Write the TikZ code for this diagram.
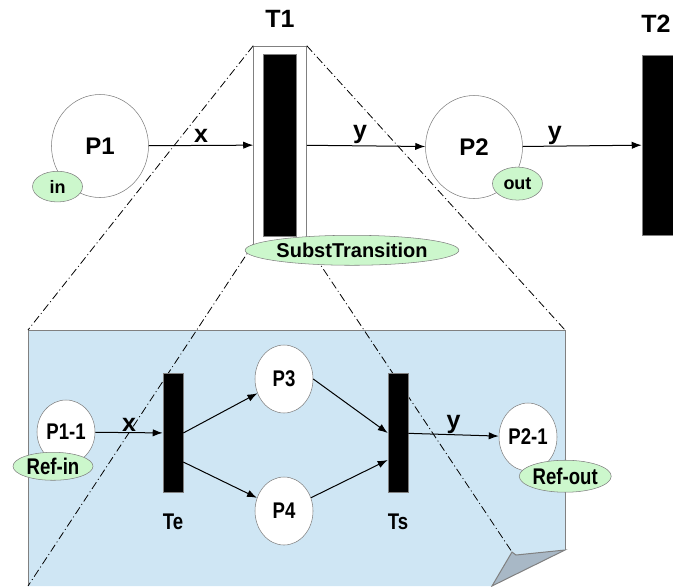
\documentclass[tikz,border=0pt]{standalone}
\usepackage{fontspec}
\setmainfont{Liberation Sans}
\newfontfamily\narrowfont{Liberation Sans}[FakeStretch=0.82]
\usetikzlibrary{shapes.geometric,arrows.meta,positioning,calc}
\definecolor{pagecol}{RGB}{207,230,244}
\definecolor{flapcol}{RGB}{168,184,198}
\definecolor{portcol}{RGB}{204,247,204}
\definecolor{rim}{RGB}{128,128,128}
\tikzstyle{place} = [ellipse, draw = rim, fill = white, inner sep = 0pt, minimum width = 72.75pt, minimum height = 77.25pt, font = \fontsize{18}{20}\selectfont\bfseries]
\tikzstyle{subplace} = [place, minimum width = 43.5pt, minimum height = 51pt, font = \narrowfont\fontsize{17}{19}\selectfont\bfseries]
\tikzstyle{port} = [ellipse, draw = rim, fill = portcol, inner sep = 0pt, minimum width = 37.5pt, minimum height = 23pt, font = \fontsize{13.5}{15}\selectfont\bfseries]
\tikzstyle{subport} = [port, font = \narrowfont\fontsize{17}{19}\selectfont\bfseries]
\tikzstyle{trans} = [rectangle, draw = rim, fill = black, inner sep = 0pt]
\tikzstyle{arrow} = [-{Latex[length = 7.5pt, width = 5.5pt]}, line width = 0.75pt]
\tikzstyle{zoomline} = [line width = 0.6pt, dash pattern = on 6pt off 2.25pt on 0.75pt off 2.25pt]
\tikzstyle{biglabel} = [font = \fontsize{18.75}{20}\selectfont\bfseries]
\tikzstyle{sublabel} = [font = \narrowfont\fontsize{17}{19}\selectfont\bfseries]

\begin{document}
\begin{tikzpicture}[x = 0.75pt, y = -0.75pt]
    \useasboundingbox (0,0) rectangle (673,586);

    % page with the refined net, bottom right corner folded
    \coordinate (page-nw) at (28,330);
    \coordinate (page-ne) at (565,330);
    \coordinate (page-sw) at (28,586);
    \coordinate (fold) at (512,552);
    \fill [pagecol] (page-sw) -- (page-nw) -- (page-ne) -- (565,550) -- (492,586) -- cycle;
    \draw [rim, line width = 0.75pt] (page-sw) -- (page-nw) -- (page-ne) -- (565,550);
    \filldraw [fill = flapcol, draw = rim, line width = 0.75pt] (fold) -- (516,555) -- (565,550) -- (492,586) -- cycle;

    \node (t1) [rectangle, draw = rim, fill = white, inner sep = 0pt, minimum width = 39.75pt, minimum height = 148.5pt] at (280,145) {};
    \node (t1-bar) [trans, minimum width = 24.75pt, minimum height = 136.5pt] at (t1) {};

    \draw [zoomline] (t1.north west) -- (page-nw);
    \draw [zoomline] (t1.south west) -- (page-sw);
    \draw [zoomline] (t1.north east) -- (page-ne);
    \draw [zoomline] (t1.south east) -- (fold);

    % upper net
    \node (p1) [place] at (100,146) {P1};
    \node (p2) [place] at (474,147) {P2};
    \node (t2) [trans, minimum width = 24pt, minimum height = 135pt] at (658,145) {};
    \node (t1-name) [biglabel, above = 10pt of t1] {T1};
    \node (t2-name) [biglabel, above = 13pt of t2, xshift = -1.5pt] {T2};
    \node (in) [port, xshift = -6pt, yshift = -3pt] at (p1.south west) {in};
    \node (out) [port, minimum height = 24.75pt, xshift = 6.75pt] at (p2.south east) {out};
    \node (subst) [port, minimum width = 140pt, minimum height = 22.5pt, font = \fontsize{15}{16}\selectfont\bfseries, xshift = 54pt, yshift = -4.5pt] at (t1.south) {SubstTransition};

    \draw [arrow] (p1) -- node [biglabel, above, inner sep = 2pt] {x} (t1);
    \draw [arrow] (t1) -- node [biglabel, above, inner sep = 1pt, pos = 0.45] {y} (p2);
    \draw [arrow] (p2) -- node [biglabel, above, inner sep = 1pt, pos = 0.27] {y} (t2);

    % lower net
    \node (p11) [subplace, minimum height = 48pt] at (66,432) {P1-1};
    \node (te) [trans, minimum width = 15pt, minimum height = 89.25pt] at (173,433) {};
    \node (p3) [subplace] at (284,379) {P3};
    \node (p4) [subplace] at (284,511) {P4};
    \node (ts) [trans, minimum width = 15pt, minimum height = 89.25pt] at (398,433) {};
    \node (p21) [subplace] at (528,437) {P2-1};
    \node (te-name) [sublabel, below = 12pt of te] {Te};
    \node (ts-name) [sublabel, below = 12pt of ts] {Ts};
    \node (ref-in) [subport, minimum width = 60pt, minimum height = 21pt, xshift = -9.75pt, yshift = -1.5pt] at (p11.south) {Ref-in};
    \node (ref-out) [subport, minimum width = 64.5pt, minimum height = 24pt, xshift = 12.4pt, yshift = -11.25pt] at (p21.south east) {Ref-out};

    \draw [arrow] (p11) -- node [biglabel, above, inner sep = 0.5pt] {x} (te);
    \draw [arrow] (te.east) -- (p3);
    \draw [arrow] ($(te.east)+(0,29)$) -- (p4);
    \draw [arrow] (p3.east) -- (ts.west);
    \draw [arrow] (p4) -- ($(ts.west)+(0,27)$);
    \draw [arrow] (ts) -- node [biglabel, above, inner sep = 0.5pt] {y} (p21);
\end{tikzpicture}
\end{document}
